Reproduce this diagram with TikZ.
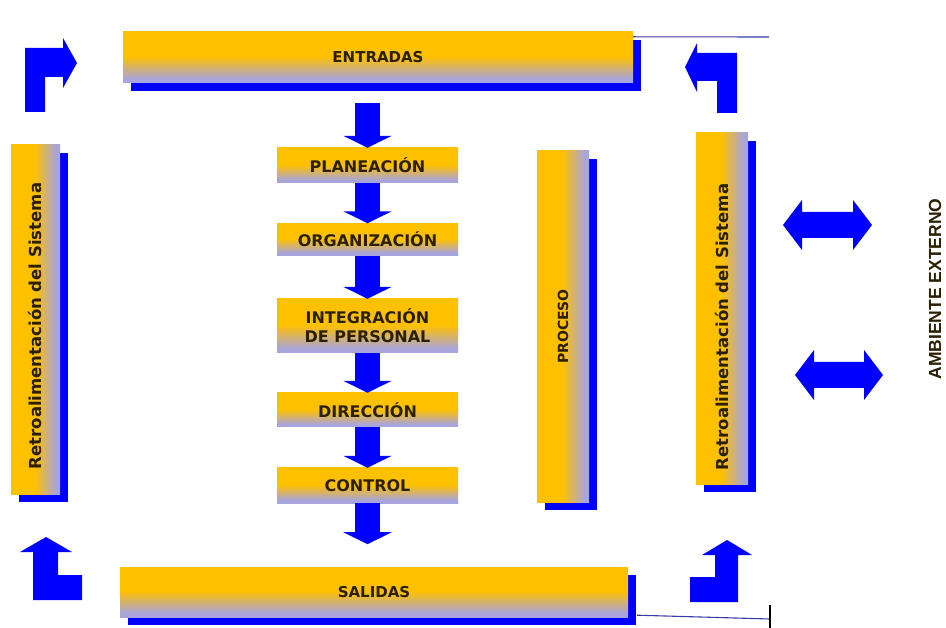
\documentclass[tikz,border=0pt]{standalone}
\usepackage{fontspec}
\setmainfont{DejaVu Sans}
\newfontfamily\sidefont{Liberation Sans}
\usetikzlibrary{arrows.meta,shadows}

\definecolor{barorange}{HTML}{FFC000}
\definecolor{barlav}{HTML}{A8A4DC}
\definecolor{arrowblue}{HTML}{0000FF}
\definecolor{labeltext}{HTML}{2A2000}
\definecolor{edgeline}{HTML}{3A3AA8}

% orange over the upper half, fading to lavender at the lower edge
\pgfdeclareverticalshading{barshade}{100bp}{%
  color(0bp)=(barlav); color(29bp)=(barlav);
  color(51bp)=(barorange); color(100bp)=(barorange)}

\tikzset{
  hbar/.style={rectangle, inner sep=0pt, shading=barshade, shading angle=0,
    text=labeltext, font=\bfseries\fontsize{15}{17}\selectfont},
  vbar/.style={rectangle, inner sep=0pt, shading=barshade, shading angle=90},
  sidelabel/.style={rotate=90, text=labeltext,
    font=\bfseries\fontsize{16.5}{18}\selectfont},
  blueshadow/.style={general shadow={fill=arrowblue,
    shadow xshift=8pt, shadow yshift=-8pt}},
  stepbox/.style={hbar, minimum width=181pt, align=center,
    font=\bfseries\fontsize{16}{18}\selectfont},
  blockarrow/.style={draw=arrowblue, line width=25pt,
    -{Triangle[width=48pt,length=12pt]}},
  bent/.style={fill=arrowblue},
  thinline/.style={draw=edgeline, line width=1.1pt},
}

\begin{document}
\begin{tikzpicture}[x=1pt,y=-1pt]
\useasboundingbox[fill=white] (0,0) rectangle (946,628);

% outer frame bars
\node[hbar, blueshadow, minimum width=510pt, minimum height=51pt]
  (ent) at (378,57.5) {ENTRADAS};
\node[hbar, blueshadow, minimum width=508pt, minimum height=50pt]
  (sal) at (374,592) {SALIDAS};
\node[vbar, blueshadow, minimum width=49pt, minimum height=349pt]
  (retl) at (35.5,319.5) {};
\node[sidelabel] (retltxt) at (retl.center |- 0,326) {Retroalimentación del Sistema};
\node[vbar, blueshadow, minimum width=52pt, minimum height=351pt]
  (proc) at (563,326.5) {};
\node[sidelabel, font=\bfseries\fontsize{14}{16}\selectfont]
  (proctxt) at (proc.center) {PROCESO};
\node[vbar, blueshadow, minimum width=52pt, minimum height=351pt]
  (retr) at (722,308.5) {};
\node[sidelabel] (retrtxt) at (retr.center |- 0,327) {Retroalimentación del Sistema};

% management steps
\node[stepbox, minimum height=35pt] (pla) at (367.5,165.5) {PLANEACIÓN};
\node[stepbox, minimum height=32pt] (org) at (367.5,239.5) {ORGANIZACIÓN};
\node[stepbox, minimum height=54pt, font=\bfseries\fontsize{16}{19}\selectfont]
  (int) at (367.5,326) {INTEGRACIÓN\\DE PERSONAL};
\node[stepbox, minimum height=34pt] (dir) at (367.5,410) {DIRECCIÓN};
\node[stepbox, minimum height=35pt] (ctl) at (367.5,485.5) {CONTROL};
\coordinate (out) at ([yshift=-41pt]ctl.south);

% flow between the steps
\draw[blockarrow] ([yshift=-20pt]pla.north |- ent.south) -- (pla.north);
\draw[blockarrow] (pla.south) -- (org.north);
\draw[blockarrow] (org.south) -- (int.north);
\draw[blockarrow] (int.south) -- (dir.north);
\draw[blockarrow] (dir.south) -- (ctl.north);
\draw[blockarrow] (ctl.south) -- (out);

% bent feedback arrows in the corners
\fill[bent] (25,112) -- (25,48) -- (63,48) -- (63,38) -- (77,63) -- (63,88)
  -- (63,77) -- (45,77) -- (45,112) -- cycle;
\fill[bent] (737,113) -- (737,53) -- (697,53) -- (697,43) -- (685,67)
  -- (697,92) -- (697,81) -- (717,81) -- (717,113) -- cycle;
\fill[bent] (33,600) -- (33,552) -- (20,552) -- (46,537) -- (72,552)
  -- (58,552) -- (58,575) -- (82,575) -- (82,600) -- cycle;
\fill[bent] (738,602) -- (738,555) -- (752,555) -- (727,540) -- (702,555)
  -- (715,555) -- (715,577) -- (690,577) -- (690,602) -- cycle;

% exchange with the environment
\fill[bent] (783,225) -- (802,200) -- (802,212) -- (853,212) -- (853,200)
  -- (872,225) -- (853,250) -- (853,238) -- (802,238) -- (802,250) -- cycle;
\fill[bent] (795,375) -- (814,350) -- (814,362) -- (864,362) -- (864,350)
  -- (883,375) -- (864,400) -- (864,388) -- (814,388) -- (814,400) -- cycle;
\node[rotate=90, text=labeltext, font=\sidefont\bfseries\fontsize{17.5}{19}\selectfont]
  (amb) at (935,289) {AMBIENTE EXTERNO};

% boundary lines
\coordinate (topend) at (769,37);
\coordinate (botend) at (770,619);
\coordinate (tick) at (770,605);
\coordinate (tickend) at (770,628);
\draw[thinline] ([yshift=-5pt]ent.north east) -- (topend);
\draw[thinline] ([xshift=9pt,yshift=2pt]sal.south east) -- (botend);
\draw[line width=1.1pt, black] (tick) -- (tickend);
\end{tikzpicture}
\end{document}
